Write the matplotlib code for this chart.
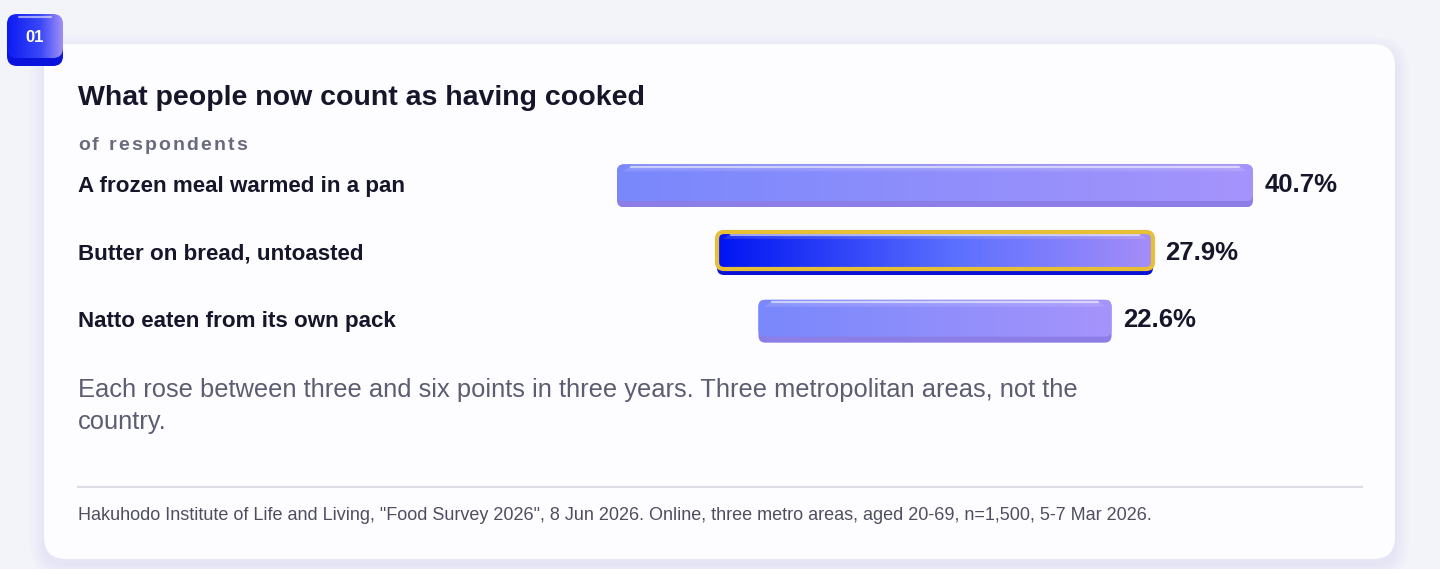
import numpy as np
import matplotlib
matplotlib.use("Agg")
import matplotlib.pyplot as plt
from matplotlib.patches import FancyBboxPatch
from matplotlib.colors import to_rgb
from matplotlib import transforms

# data
categories = ["A frozen meal warmed in a pan",
              "Butter on bread, untoasted",
              "Natto eaten from its own pack"]
values = [40.7, 27.9, 22.6]
highlight = 1

title = "What people now count as having cooked"
subtitle = "of respondents"
note = ("Each rose between three and six points in three years. Three metropolitan areas, not the\n"
        "country.")
source = ('Hakuhodo Institute of Life and Living, "Food Survey 2026", 8 Jun 2026. '
          'Online, three metro areas, aged 20-69, n=1,500, 5-7 Mar 2026.')

FONT = "Liberation Sans"
DARK = "#16162b"
W, H = 1440, 569


def gradient(stops, n=256):
    """horizontal gradient image from a list of (pos, color)"""
    pos = [p for p, _ in stops]
    cols = np.array([to_rgb(c) for _, c in stops])
    t = np.linspace(0, 1, n)
    img = np.stack([np.interp(t, pos, cols[:, k]) for k in range(3)], axis=-1)
    return img[np.newaxis, :, :]


fig = plt.figure(figsize=(W / 100, H / 100), dpi=100)
fig.patch.set_facecolor("#f3f3fa")

# background axes in pixel units
bg = fig.add_axes([0, 0, 1, 1])
bg.set_xlim(0, W)
bg.set_ylim(H, 0)
bg.axis("off")

# card with soft shadow
for i, a in enumerate([0.05, 0.05, 0.06, 0.07, 0.08]):
    g = 14 - i * 3
    bg.add_patch(FancyBboxPatch((44 - g, 44 - g + 6), 1351 + 2 * g, 515 + 2 * g,
                                boxstyle="round,pad=0,rounding_size=%d" % (22 + g),
                                fc="#c9c9f2", ec="none", alpha=a, zorder=1))
bg.add_patch(FancyBboxPatch((44, 44), 1351, 515, boxstyle="round,pad=0,rounding_size=22",
                            fc="#fdfdff", ec="none", zorder=2))

# badge "01"
bg.add_patch(FancyBboxPatch((7, 16), 56, 50, boxstyle="round,pad=0,rounding_size=10",
                            fc="#0a12de", ec="none", zorder=3))
badge = FancyBboxPatch((7, 14), 56, 44, boxstyle="round,pad=0,rounding_size=10",
                       fc="none", ec="none", zorder=4)
bg.add_patch(badge)
im = bg.imshow(gradient([(0, "#0c1af2"), (0.6, "#3a48f8"), (1, "#a090f6")]),
               extent=(7, 63, 58, 14), aspect="auto", zorder=4)
im.set_clip_path(badge)
bg.plot([19, 51], [16.5, 16.5], color="white", alpha=0.55, lw=1.5, zorder=5,
        solid_capstyle="round")
bg.text(35, 37, "01", color="white", fontsize=12, fontweight="bold", family=FONT,
        ha="center", va="center", zorder=6)
bg.set_xlim(0, W)
bg.set_ylim(H, 0)

# titles
bg.text(78, 97.5, title, fontsize=20.5, fontweight="bold", color=DARK, family=FONT,
        va="center", zorder=5)

renderer = fig.canvas.get_renderer()
x = 78
for ch in subtitle:
    t = bg.text(x, 145.5, ch, fontsize=14, fontweight="bold", color="#6a6a7e", family=FONT,
                va="center", zorder=5)
    x += t.get_window_extent(renderer=renderer).width + 2.2

# bar axes, centred bars around x = 935 px
ax = fig.add_axes([535 / W, (H - 355) / H, 800 / W, 203 / H])
ax.axis("off")
ax.patch.set_alpha(0)

px_x = 800 / 51.2
px_y = 203 / 3
ma = px_x / px_y
rad = 7 / px_x
bar_h = 43 / px_y
face_h = 37 / px_y

vals = np.array(values)
ypos = np.arange(len(values))
lip_cols = ["#0a12d6" if i == highlight else "#8c7ee6" for i in ypos]
bars = ax.barh(ypos, vals, left=-vals / 2, height=bar_h, color=lip_cols, zorder=2)

for i, b in enumerate(bars):
    x0, y0, w, h = b.get_x(), b.get_y(), b.get_width(), b.get_height()
    lip = FancyBboxPatch((x0, y0), w, h, boxstyle="round,pad=0,rounding_size=%f" % rad,
                         mutation_aspect=ma, fc="none", ec="none", transform=ax.transData)
    ax.add_patch(lip)
    b.set_clip_path(lip)

    face = FancyBboxPatch((x0, y0), w, face_h, boxstyle="round,pad=0,rounding_size=%f" % rad,
                          mutation_aspect=ma, fc="none", ec="none", transform=ax.transData)
    ax.add_patch(face)
    if i == highlight:
        stops = [(0, "#0014f2"), (0.55, "#5c70ff"), (1, "#a58ef8")]
    else:
        stops = [(0, "#7988fc"), (1, "#a594fb")]
    img = ax.imshow(gradient(stops), extent=(x0, x0 + w, y0 + face_h, y0),
                    aspect="auto", zorder=3)
    img.set_clip_path(face)

    # glossy top highlight
    hy = y0 + 2.5 / px_y
    ax.plot([x0 + 14 / px_x, x0 + w - 14 / px_x], [hy, hy], color="white", alpha=0.55,
            lw=1.6, zorder=4, solid_capstyle="round")
    ax.add_patch(plt.Polygon([(x0 + 6 / px_x, y0 + 7 / px_y), (x0 + 14 / px_x, y0 + 1 / px_y),
                              (x0 + w - 14 / px_x, y0 + 1 / px_y), (x0 + w - 6 / px_x, y0 + 7 / px_y)],
                             closed=True, fc="white", ec="none", alpha=0.12, zorder=4))

    if i == highlight:
        # gold rim round the highlighted bar
        ax.add_patch(FancyBboxPatch((x0, y0), w, face_h,
                                    boxstyle="round,pad=0,rounding_size=%f" % rad,
                                    mutation_aspect=ma, fc="none", ec="#e6bf36", lw=3,
                                    zorder=5, transform=ax.transData))

    ax.text(x0 + w + 12 / px_x, i - 0.01, f"{values[i]}%", fontsize=18.5, fontweight="bold",
            color=DARK, family=FONT, va="center", ha="left", zorder=6)

ax.set_xlim(-25.6, 25.6)
ax.set_ylim(len(values) - 0.5, -0.5)

# category labels: x in page pixels, y on the bar axis
lab_tr = transforms.blended_transform_factory(bg.transData, ax.transData)
for i, c in enumerate(categories):
    ax.text(78, i + 0.005, c, transform=lab_tr, fontsize=16.15, fontweight="bold",
            color=DARK, family=FONT, va="center", ha="left", clip_on=False)

# note, rule and source
bg.text(78, 406, note, fontsize=18.4, color="#5c5c72", family=FONT, va="center",
        linespacing=1.44, zorder=5)
bg.plot([78, 1362], [487, 487], color="#dcdce5", lw=1.5, zorder=5)
bg.text(78, 516, source, fontsize=13.0, color="#4e4e60", family=FONT, va="center", zorder=5)

fig.savefig("out.png", dpi=100, facecolor=fig.get_facecolor())
